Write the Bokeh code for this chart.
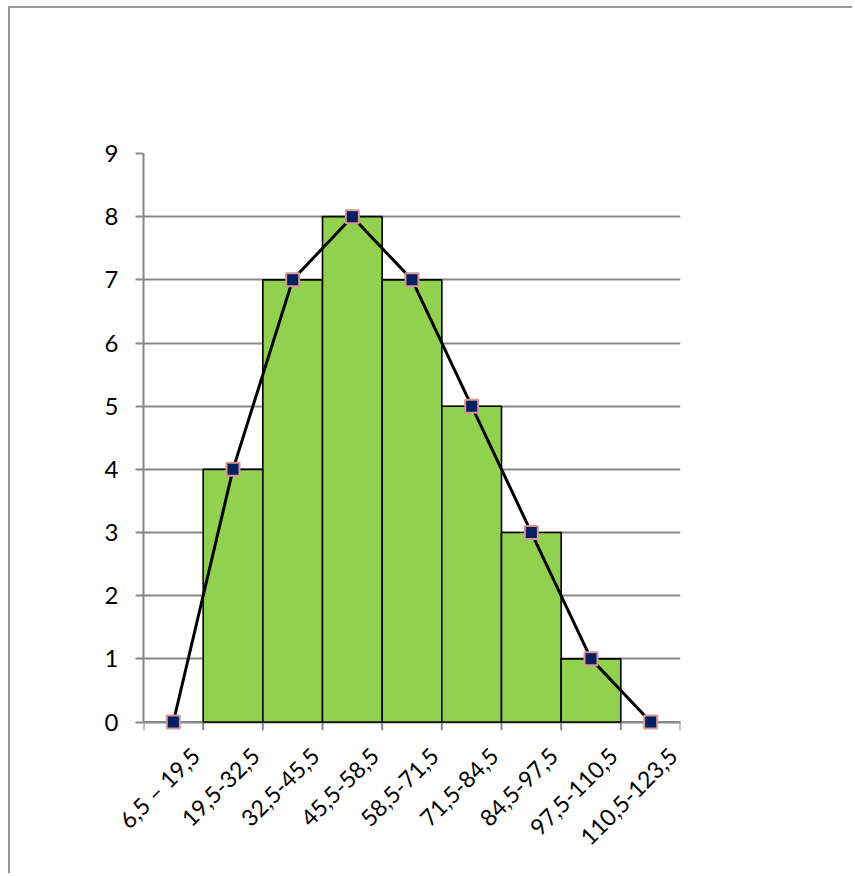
from bokeh.plotting import figure
from bokeh.models import Range1d, FixedTicker, Span
from bokeh.embed import file_html
from bokeh.resources import INLINE

categories = ["6,5 – 19,5", "19,5-32,5", "32,5-45,5", "45,5-58,5", "58,5-71,5",
              "71,5-84,5", "84,5-97,5", "97,5-110,5", "110,5-123,5"]
freq = [0, 4, 7, 8, 7, 5, 3, 1, 0]
y_ticks = [0, 1, 2, 3, 4, 5, 6, 7, 8, 9]

n = len(categories)
centers = [i + 0.5 for i in range(n)]
bounds = list(range(n + 1))

FONT = "Lato"
GRAY = "#888888"
YMIN = -0.15
TICK = -0.13        # length of the category-boundary tick marks below zero
LABEL_SHIFT = 0.37  # rotated labels end a little right of the category centre

p = figure(width=844, height=867, output_backend="svg", toolbar_location=None,
           x_range=Range1d(0, n), y_range=Range1d(YMIN, 9),
           min_border_left=133, min_border_right=174,
           min_border_top=145, min_border_bottom=144)
p.styles = {"margin": "6px 0px 0px 8px",
            "border-left": "2px solid #999999", "border-top": "2px solid #999999"}
p.outline_line_color = None
p.background_fill_color = "white"
p.border_fill_color = "white"

# grid
p.xgrid.visible = False
p.ygrid.ticker = FixedTicker(ticks=y_ticks)
p.ygrid.grid_line_color = GRAY
p.ygrid.grid_line_width = 2
p.ygrid.level = "underlay"

# category axis line at zero and boundary ticks
p.add_layout(Span(location=0, dimension="width", line_color=GRAY, line_width=2,
                  level="underlay"))
p.segment(x0=bounds, y0=[0] * len(bounds), x1=bounds, y1=[TICK] * len(bounds),
          line_color=GRAY, line_width=2)

# bars (histogram)
bx = [c for c, f in zip(centers, freq) if f > 0]
bt = [f for f in freq if f > 0]
p.vbar(x=bx, top=bt, width=1.0, bottom=0, fill_color="#92D050",
       line_color="black", line_width=1.6)

# frequency polygon
p.line(centers, freq, line_color="black", line_width=3)
p.scatter(centers, freq, marker="square", size=13, fill_color="#002060",
          line_color="#D99694", line_width=2)

# y axis
p.yaxis.ticker = FixedTicker(ticks=y_ticks)
p.yaxis.bounds = (0, 9)
p.yaxis.axis_line_color = GRAY
p.yaxis.axis_line_width = 2
p.yaxis.major_tick_line_color = GRAY
p.yaxis.major_tick_line_width = 2
p.yaxis.major_tick_out = 8
p.yaxis.major_tick_in = 0
p.yaxis.minor_tick_line_color = None
p.yaxis.major_label_standoff = 17
p.yaxis.major_label_text_font = FONT
p.yaxis.major_label_text_font_size = "24px"
p.yaxis.major_label_text_color = "black"

# x axis (labels only; line and ticks drawn at zero above)
label_pos = [c + LABEL_SHIFT for c in centers]
p.xaxis.ticker = FixedTicker(ticks=label_pos, minor_ticks=[])
p.xaxis.major_label_overrides = {x: lab for x, lab in zip(label_pos, categories)}
p.xaxis.major_label_orientation = 0.785398
p.xaxis.axis_line_color = None
p.xaxis.major_tick_line_color = None
p.xaxis.minor_tick_line_color = None
p.xaxis.major_tick_out = 0
p.xaxis.major_tick_in = 0
p.xaxis.major_label_standoff = 20
p.xaxis.major_label_text_font = FONT
p.xaxis.major_label_text_font_size = "23px"
p.xaxis.major_label_text_color = "black"

open("out.html", "w").write(file_html(p, INLINE))
